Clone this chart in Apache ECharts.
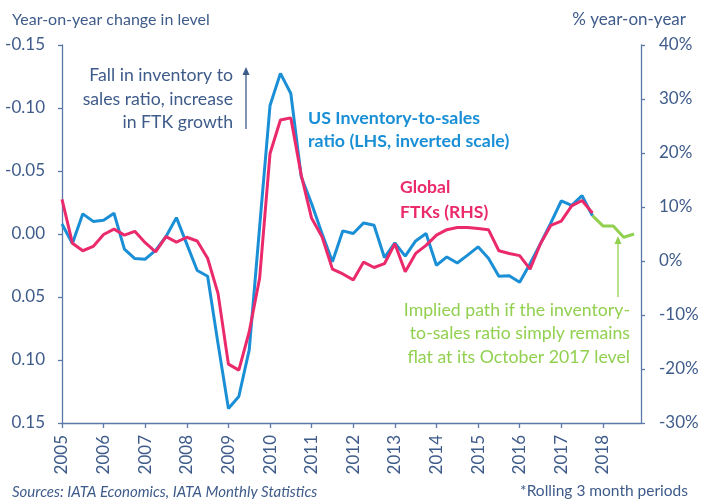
<!DOCTYPE html>
<html>
<head>
<meta charset="utf-8">
<script src="https://cdn.jsdelivr.net/npm/echarts@6/dist/echarts.min.js"></script>
<style>
  html, body { margin: 0; padding: 0; background: #fff; }
  #chart { width: 710px; height: 499px; }
</style>
</head>
<body>
<div id="chart"></div>
<script>
// quarterly points (Jan, Apr, Jul, Oct), 2005 Q1 .. 2017 Q4
const startYear = 2005;
const yearTicks = [2005, 2006, 2007, 2008, 2009, 2010, 2011, 2012, 2013, 2014, 2015, 2016, 2017, 2018];

// US inventory-to-sales ratio, y/y change in level (LHS, inverted)
const usInventoryRatio = [
  -0.008, 0.0075, -0.016, -0.010, -0.011, -0.0165, 0.012, 0.0195, 0.020, 0.013,
  0.002, -0.013, 0.008, 0.029, 0.0335, 0.087, 0.1385, 0.129, 0.092, -0.0056,
  -0.102, -0.1275, -0.1115, -0.0455, -0.024, -0.0004, 0.022, -0.0025, -0.0004, -0.0088,
  -0.007, 0.0187, 0.0071, 0.0176, 0.0055, -0.0004, 0.0248, 0.0182, 0.023, 0.0168,
  0.0102, 0.0192, 0.0335, 0.0331, 0.0383, 0.0236, 0.0077, -0.0088, -0.0262, -0.0227,
  -0.0304, -0.0145
];

// Global FTKs, % year-on-year (RHS)
const globalFtks = [
  11.4, 3.3, 1.9, 2.7, 4.9, 5.9, 4.8, 5.5, 3.4, 1.7,
  4.5, 3.5, 4.4, 3.7, 0.5, -6.0, -19.1, -20.2, -13.1, -3.2,
  19.9, 26.1, 26.5, 15.9, 7.9, 4.5, -1.5, -2.4, -3.5, -0.2,
  -1.2, -0.5, 3.2, -2.0, 1.4, 2.9, 4.8, 5.8, 6.2, 6.2,
  6.0, 5.8, 1.9, 1.4, 1.0, -1.5, 3.2, 6.6, 7.4, 10.2,
  11.2, 8.9
];

// implied FTK path, Oct 2017 .. Oct 2018
const impliedPath = [8.4, 6.5, 6.5, 4.4, 5.0];
const impliedStartIndex = 51;

const leftTicks = { min: -0.15, max: 0.15, interval: 0.05 };
const rightTicks = { min: -30, max: 40, interval: 10 };

const slate = '#3e5b8a';
const axisColor = '#5a78a8';
const blue = '#1a8fd6';
const pink = '#ea2a6b';
const green = '#92d050';
const font = 'Lato';

const xOf = (i) => startYear + i * 0.25;
const blueData = usInventoryRatio.map((v, i) => [xOf(i), v]);
const pinkData = globalFtks.map((v, i) => [xOf(i), v]);
const greenData = impliedPath.map((v, i) => [xOf(impliedStartIndex + i), v]);

const chart = echarts.init(document.getElementById('chart'), null, { renderer: 'canvas' });

const txt = (x, y, text, opts) => ({
  type: 'text',
  x: x, y: y,
  style: Object.assign({
    text: text,
    fill: slate,
    font: '17.7px ' + font,
    textVerticalAlign: 'middle'
  }, opts || {})
});

const option = {
  backgroundColor: '#fff',
  animation: false,
  grid: { left: 62, right: 69, top: 45, bottom: 76 },
  xAxis: {
    type: 'value',
    min: startYear,
    max: 2018 + 11 / 12,
    interval: 1,
    axisLine: { show: true, onZero: false, lineStyle: { color: axisColor, width: 1.3 } },
    axisTick: { show: true, inside: false, length: 5, lineStyle: { color: axisColor, width: 1.3 } },
    splitLine: { show: false },
    axisLabel: {
      rotate: 90,
      margin: 12,
      color: slate,
      fontFamily: font,
      fontSize: 17,
      showMaxLabel: false,
      formatter: (v) => (yearTicks.indexOf(v) >= 0 ? String(v) : '')
    }
  },
  yAxis: [
    {
      type: 'value',
      position: 'left',
      inverse: true,
      min: leftTicks.min,
      max: leftTicks.max,
      interval: leftTicks.interval,
      axisLine: { show: true, lineStyle: { color: axisColor, width: 1.3 } },
      axisTick: { show: true, length: 4, lineStyle: { color: axisColor, width: 1.3 } },
      splitLine: { show: false },
      axisLabel: {
        margin: 17,
        color: slate,
        fontFamily: font,
        fontSize: 17,
        formatter: (v) => (Math.abs(v) < 1e-9 ? '0.00' : v.toFixed(2))
      }
    },
    {
      type: 'value',
      position: 'right',
      min: rightTicks.min,
      max: rightTicks.max,
      interval: rightTicks.interval,
      axisLine: { show: true, lineStyle: { color: axisColor, width: 1.3 } },
      axisTick: { show: true, length: 4, lineStyle: { color: axisColor, width: 1.3 } },
      splitLine: { show: false },
      axisLabel: {
        margin: 18,
        color: slate,
        fontFamily: font,
        fontSize: 17,
        formatter: '{value}%'
      }
    }
  ],
  series: [
    {
      name: 'US Inventory-to-sales ratio',
      type: 'line',
      yAxisIndex: 0,
      data: blueData,
      symbol: 'none',
      lineStyle: { color: blue, width: 3 },
      z: 2
    },
    {
      name: 'Global FTKs',
      type: 'line',
      yAxisIndex: 1,
      data: pinkData,
      symbol: 'none',
      lineStyle: { color: pink, width: 3 },
      z: 3
    },
    {
      name: 'Implied path',
      type: 'line',
      yAxisIndex: 1,
      data: greenData,
      symbol: 'none',
      lineStyle: { color: green, width: 3 },
      z: 3
    }
  ],
  graphic: [
    txt(12, 20, 'Year-on-year change in level', { font: '16px ' + font }),
    txt(686, 20, '% year-on-year', { font: '17px ' + font, textAlign: 'right' }),

    txt(233, 75, 'Fall in inventory to', { textAlign: 'right' }),
    txt(233, 99, 'sales ratio, increase', { textAlign: 'right' }),
    txt(233, 122, 'in FTK growth', { textAlign: 'right' }),
    { type: 'line', shape: { x1: 246, y1: 129, x2: 246, y2: 72 }, style: { stroke: slate, lineWidth: 1.3 } },
    { type: 'polygon', shape: { points: [[246, 67], [242.5, 75], [249.5, 75]] }, style: { fill: slate } },

    txt(308, 118, 'US Inventory-to-sales', { fill: blue, font: 'bold 17.8px ' + font }),
    txt(308, 141, 'ratio (LHS, inverted scale)', { fill: blue, font: 'bold 17.8px ' + font }),

    txt(400, 187, 'Global', { fill: pink, font: 'bold 17.5px ' + font }),
    txt(400, 212, 'FTKs (RHS)', { fill: pink, font: 'bold 17.5px ' + font }),

    txt(630, 310, 'Implied path if the inventory-', { fill: green, textAlign: 'right' }),
    txt(630, 333, 'to-sales ratio simply remains', { fill: green, textAlign: 'right' }),
    txt(630, 357, 'flat at its October 2017 level', { fill: green, textAlign: 'right' }),
    { type: 'line', shape: { x1: 618, y1: 297, x2: 618, y2: 241 }, style: { stroke: green, lineWidth: 1.3 } },
    { type: 'polygon', shape: { points: [[618, 236], [614.5, 244], [621.5, 244]] }, style: { fill: green } },

    txt(12, 492, 'Sources: IATA Economics, IATA Monthly Statistics', { font: 'italic 15px ' + font }),
    txt(688, 491, '*Rolling 3 month periods', { font: '15.5px ' + font, textAlign: 'right' })
  ]
};

chart.setOption(option);
</script>
</body>
</html>
